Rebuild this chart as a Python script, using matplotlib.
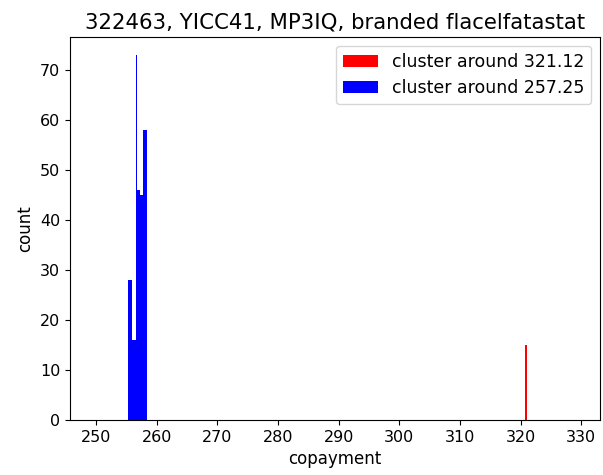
import matplotlib
matplotlib.use("Agg")
import matplotlib.pyplot as plt

# histogram bins
blue_edges = [255.25, 255.90, 256.52, 256.72, 257.31, 257.80, 258.36]
blue_counts = [28, 16, 73, 46, 45, 58]
red_edges = [320.68, 321.10]
red_counts = [15]

title = "322463, YICC41, MP3IQ, branded flacelfatastat"

fig = plt.figure(figsize=(6.03, 4.75), dpi=100)
ax = fig.add_axes([0.116, 0.116, 0.879, 0.806])

ax.hist(red_edges[:-1], bins=red_edges, weights=red_counts, color="red",
        label="cluster around 321.12")
ax.hist(blue_edges[:-1], bins=blue_edges, weights=blue_counts, color="blue",
        label="cluster around 257.25")

ax.set_xlim(245.7, 333.1)
ax.set_ylim(0, 76.65)
ax.set_xticks(range(250, 331, 10))
ax.tick_params(labelsize=11.5)
ax.set_xlabel("copayment", fontsize=12)
ax.set_ylabel("count", fontsize=12)
ax.set_title(title, fontsize=15.3)
ax.legend(loc="upper right", fontsize=12.5)

fig.savefig("out.png")
